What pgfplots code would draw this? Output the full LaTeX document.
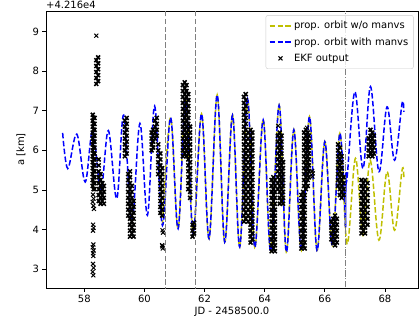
\documentclass[border=0pt]{standalone}
\usepackage{fontspec}
\setmainfont{DejaVu Sans}
\usepackage{pgfplots}
\pgfplotsset{compat=1.18}
\definecolor{mplyellow}{rgb}{0.75,0.75,0}
\definecolor{mplblue}{rgb}{0,0,1}
\begin{document}
\begin{tikzpicture}
\begin{axis}[
 width=372pt, height=277pt, scale only axis,
 xmin=56.726, xmax=69.10, ymin=2.52, ymax=9.523,
 xtick={58,60,62,64,66,68}, ytick={3,4,5,6,7,8,9},
 tick align=outside, tick pos=left, major tick length=3.5pt,
 every tick/.style={black, line width=0.8pt},
 axis line style={line width=0.8pt},
 /pgf/number format/assume math mode=true,
 ticklabel style={font=\fontsize{10}{12}\selectfont},
 xlabel={JD - 2458500.0}, ylabel={a [km]},
 label style={font=\fontsize{10}{12}\selectfont},
 every axis x label/.style={at={(axis description cs:0.5,0)}, anchor=center, yshift=-24pt},
 every axis y label/.style={at={(axis description cs:0,0.5)}, xshift=-25pt, rotate=90, anchor=center},
 legend style={at={(rel axis cs:0.988,0.985)}, anchor=north east, draw=black!20, fill=white, fill opacity=0.8, text opacity=1, draw opacity=1, rounded corners=2pt, font=\fontsize{10}{12}\selectfont, row sep=3.2pt, inner xsep=3pt, inner ysep=4pt, cells={anchor=west}},
 legend image code/.code={\draw[mark repeat=2,mark phase=2,#1] plot coordinates {(0cm,0cm) (0.38cm,0cm) (0.76cm,0cm)};},
]
\addlegendimage{draw=mplyellow, line width=1.5pt, dash pattern=on 5.5pt off 2.4pt}
\addlegendentry{prop. orbit w/o manvs}
\addlegendimage{draw=mplblue, line width=1.5pt, dash pattern=on 5.5pt off 2.4pt}
\addlegendentry{prop. orbit with manvs}
\addlegendimage{only marks, mark=x, mark size=2.8pt, draw=black, mark options={line width=1pt, solid}}
\addlegendentry{EKF output}
% yellow: propagated orbit without manoeuvres
\addplot[mplyellow, line width=1.5pt, dash pattern=on 5.5pt off 2.4pt, smooth, tension=0.6, forget plot] coordinates {
(60.60,4.10)(60.87,6.83)(61.12,4.02)(61.37,7.30)(61.62,3.90)(61.90,6.92)(62.15,3.77)(62.42,7.40)(62.67,3.68)(62.93,6.89)(63.17,3.56)(63.43,7.30)(63.67,3.55)(63.95,6.77)(64.20,3.45)(64.48,7.14)(64.72,3.43)(64.97,6.52)(65.22,3.47)(65.49,6.85)(65.74,3.47)(66.00,6.22)(66.25,3.60)(66.50,6.43)(66.74,3.64)(67.02,5.80)(67.27,3.85)(67.51,5.75)(67.80,3.73)(68.07,5.46)(68.32,3.98)(68.57,5.50)(68.63,5.29)};
% blue: propagated orbit with manoeuvres
\addplot[mplblue, line width=1.5pt, dash pattern=on 5.5pt off 2.4pt, smooth, tension=0.6, forget plot] coordinates {
(57.28,6.44)(57.45,5.54)(57.75,6.41)(58.03,5.20)(58.28,6.50)(58.55,5.00)(58.80,6.50)(59.08,4.78)(59.31,6.89)(59.58,4.20)(59.85,6.68)(60.10,4.36)(60.34,7.12)(60.60,4.10)(60.87,6.83)(61.12,4.02)(61.37,7.30)(61.62,3.90)(61.90,6.92)(62.15,3.77)(62.42,7.40)(62.67,3.68)(62.93,6.89)(63.17,3.56)(63.43,7.30)(63.67,3.55)(63.95,6.77)(64.20,3.45)(64.48,7.14)(64.72,3.43)(64.97,6.52)(65.22,3.47)(65.49,6.85)(65.74,3.47)(66.00,6.22)(66.25,3.60)(66.50,6.43)(66.69,4.05)};
\addplot[mplblue, line width=1.5pt, forget plot] coordinates {(66.69,4.05)(66.70,5.45)};
\addplot[mplblue, line width=1.5pt, dash pattern=on 5.5pt off 2.4pt, smooth, tension=0.6, forget plot] coordinates {
(66.70,5.45)(66.74,5.30)(67.00,7.48)(67.27,5.54)(67.52,7.61)(67.80,5.46)(68.07,7.10)(68.32,5.75)(68.57,7.19)(68.63,6.97)};
% EKF output: dense bands
\addplot[only marks, mark=x, mark size=2.8pt, black, mark options={line width=1.5pt}, forget plot] coordinates {
(58.28,5.10)(58.28,5.25)(58.28,5.40)(58.28,5.55)(58.28,5.70)(58.28,5.85)(58.28,6.00)(58.28,6.15)(58.28,6.30)(58.28,6.45)(58.28,6.60)(58.28,6.75)(58.28,6.90)
(58.34,5.02)(58.34,5.17)(58.34,5.32)(58.34,5.47)(58.34,5.62)(58.34,5.77)(58.34,5.92)(58.34,6.07)(58.34,6.22)(58.34,6.37)(58.34,6.52)(58.34,6.67)(58.34,6.82)
(58.31,5.02)(58.31,5.17)(58.31,5.32)(58.31,5.47)(58.31,5.62)(58.31,5.77)(58.31,5.92)(58.31,6.07)(58.31,6.22)(58.31,6.37)(58.31,6.52)(58.31,6.67)(58.31,6.82)
(58.40,7.68)(58.40,7.83)(58.40,7.98)(58.40,8.13)(58.40,8.28)
(58.46,7.75)(58.46,7.90)(58.46,8.05)(58.46,8.20)(58.46,8.35)
(58.48,4.72)(58.48,4.87)(58.48,5.02)(58.48,5.17)(58.48,5.32)(58.48,5.47)(58.48,5.62)(58.48,5.77)
(58.54,4.65)(58.54,4.80)(58.54,4.95)(58.54,5.10)(58.54,5.25)(58.54,5.40)
(58.60,4.72)(58.60,4.87)(58.60,5.02)(58.60,5.17)
(58.65,4.65)(58.65,4.80)(58.65,4.95)(58.65,5.10)
(59.35,5.85)(59.35,6.00)(59.35,6.15)(59.35,6.30)(59.35,6.45)(59.35,6.60)(59.35,6.75)
(59.41,5.92)(59.41,6.07)(59.41,6.22)(59.41,6.37)(59.41,6.52)(59.41,6.67)(59.41,6.82)
(59.46,4.35)(59.46,4.50)(59.46,4.65)(59.46,4.80)(59.46,4.95)(59.46,5.10)(59.46,5.25)(59.46,5.40)
(59.52,3.82)(59.52,3.97)(59.52,4.12)(59.52,4.27)(59.52,4.42)(59.52,4.57)(59.52,4.72)(59.52,4.87)(59.52,5.02)(59.52,5.17)(59.52,5.32)(59.52,5.47)
(59.58,3.90)(59.58,4.05)(59.58,4.20)(59.58,4.35)(59.58,4.50)(59.58,4.65)(59.58,4.80)(59.58,4.95)(59.58,5.10)
(59.64,3.82)(59.64,3.97)(59.64,4.12)(59.64,4.27)(59.64,4.42)(59.64,4.57)(59.64,4.72)
(60.24,6.00)(60.24,6.15)(60.24,6.30)(60.24,6.45)
(60.29,6.07)(60.29,6.22)(60.29,6.37)(60.29,6.52)
(60.35,6.30)(60.35,6.45)(60.35,6.60)(60.35,6.75)
(60.41,6.37)(60.41,6.52)(60.41,6.67)(60.41,6.82)
(60.46,5.40)(60.46,5.55)(60.46,5.70)(60.46,5.85)(60.46,6.00)(60.46,6.15)
(60.53,4.42)(60.53,4.57)(60.53,4.72)(60.53,4.87)(60.53,5.02)(60.53,5.17)(60.53,5.32)(60.53,5.47)(60.53,5.62)(60.53,5.77)(60.53,5.92)
(60.59,4.35)(60.59,4.50)(60.59,4.65)(60.59,4.80)(60.59,4.95)(60.59,5.10)(60.59,5.25)(60.59,5.40)(60.59,5.55)
(61.28,5.85)(61.28,6.00)(61.28,6.15)(61.28,6.30)(61.28,6.45)(61.28,6.60)(61.28,6.75)(61.28,6.90)(61.28,7.05)(61.28,7.20)(61.28,7.35)(61.28,7.50)(61.28,7.65)
(61.34,5.92)(61.34,6.07)(61.34,6.22)(61.34,6.37)(61.34,6.52)(61.34,6.67)(61.34,6.82)(61.34,6.97)(61.34,7.12)(61.34,7.27)(61.34,7.42)(61.34,7.57)(61.34,7.72)
(61.40,5.85)(61.40,6.00)(61.40,6.15)(61.40,6.30)(61.40,6.45)(61.40,6.60)(61.40,6.75)(61.40,6.90)(61.40,7.05)(61.40,7.20)(61.40,7.35)(61.40,7.50)(61.40,7.65)
(61.46,5.02)(61.46,5.17)(61.46,5.32)(61.46,5.47)(61.46,5.62)(61.46,5.77)(61.46,5.92)(61.46,6.07)(61.46,6.22)(61.46,6.37)(61.46,6.52)(61.46,6.67)(61.46,6.82)(61.46,6.97)(61.46,7.12)(61.46,7.27)(61.46,7.42)
(61.52,4.80)(61.52,4.95)(61.52,5.10)(61.52,5.25)(61.52,5.40)(61.52,5.55)(61.52,5.70)(61.52,5.85)(61.52,6.00)(61.52,6.15)(61.52,6.30)(61.52,6.45)(61.52,6.60)
(61.60,3.82)(61.60,3.97)(61.60,4.12)(61.65,3.90)(61.65,4.05)(61.65,4.17)
(63.31,4.20)(63.31,4.35)(63.31,4.50)(63.31,4.65)(63.31,4.80)(63.31,4.95)(63.31,5.10)(63.31,5.25)(63.31,5.40)(63.31,5.55)(63.31,5.70)(63.31,5.85)(63.31,6.00)(63.31,6.15)(63.31,6.30)(63.31,6.45)(63.31,6.60)(63.31,6.75)(63.31,6.90)(63.31,7.05)(63.31,7.20)(63.31,7.35)
(63.37,4.27)(63.37,4.42)(63.37,4.57)(63.37,4.72)(63.37,4.87)(63.37,5.02)(63.37,5.17)(63.37,5.32)(63.37,5.47)(63.37,5.62)(63.37,5.77)(63.37,5.92)(63.37,6.07)(63.37,6.22)(63.37,6.37)(63.37,6.52)(63.37,6.67)(63.37,6.82)(63.37,6.97)(63.37,7.12)(63.37,7.27)(63.37,7.42)
(63.45,4.20)(63.45,4.35)(63.45,4.50)(63.45,4.65)(63.45,4.80)(63.45,4.95)(63.45,5.10)(63.45,5.25)(63.45,5.40)(63.45,5.55)(63.45,5.70)(63.45,5.85)(63.45,6.00)(63.45,6.15)(63.45,6.30)(63.45,6.45)
(63.53,3.67)(63.53,3.82)(63.53,3.97)(63.53,4.12)(63.53,4.27)(63.53,4.42)(63.53,4.57)(63.53,4.72)(63.53,4.87)(63.53,5.02)(63.53,5.17)(63.53,5.32)(63.53,5.47)(63.53,5.62)(63.53,5.77)(63.53,5.92)(63.53,6.07)(63.53,6.22)(63.53,6.37)(63.53,6.52)
(63.59,3.75)(63.59,3.90)(63.59,4.05)(63.59,4.20)(63.59,4.35)(63.59,4.50)(63.59,4.65)(63.59,4.80)(63.59,4.95)(63.59,5.10)(63.59,5.25)(63.59,5.40)(63.59,5.55)(63.59,5.70)(63.59,5.85)(63.59,6.00)(63.59,6.15)(63.59,6.30)(63.59,6.45)
(64.23,3.45)(64.23,3.60)(64.23,3.75)(64.23,3.90)(64.23,4.05)(64.23,4.20)(64.23,4.35)(64.23,4.50)(64.23,4.65)(64.23,4.80)(64.23,4.95)(64.23,5.10)(64.23,5.25)
(64.29,3.52)(64.29,3.67)(64.29,3.82)(64.29,3.97)(64.29,4.12)(64.29,4.27)(64.29,4.42)(64.29,4.57)(64.29,4.72)(64.29,4.87)(64.29,5.02)(64.29,5.17)(64.29,5.32)
(64.34,3.45)(64.34,3.60)(64.34,3.75)(64.34,3.90)(64.34,4.05)(64.34,4.20)(64.34,4.35)(64.34,4.50)(64.34,4.65)(64.34,4.80)(64.34,4.95)(64.34,5.10)(64.34,5.25)
(64.44,5.02)(64.44,5.17)(64.44,5.32)(64.44,5.47)(64.44,5.62)(64.44,5.77)(64.44,5.92)(64.44,6.07)(64.44,6.22)(64.44,6.37)
(64.50,4.65)(64.50,4.80)(64.50,4.95)(64.50,5.10)(64.50,5.25)(64.50,5.40)(64.50,5.55)(64.50,5.70)(64.50,5.85)(64.50,6.00)(64.50,6.15)(64.50,6.30)(64.50,6.45)
(64.56,4.72)(64.56,4.87)(64.56,5.02)(64.56,5.17)(64.56,5.32)(64.56,5.47)(64.56,5.62)(64.56,5.77)(64.56,5.92)(64.56,6.07)(64.56,6.22)(64.56,6.37)
(64.61,4.65)(64.61,4.80)(64.61,4.95)(64.61,5.10)(64.61,5.25)(64.61,5.40)(64.61,5.55)(64.61,5.70)
(65.22,3.52)(65.22,3.67)(65.22,3.82)(65.22,3.97)(65.22,4.12)(65.22,4.27)(65.22,4.42)(65.22,4.57)(65.22,4.72)(65.22,4.87)
(65.28,3.60)(65.28,3.75)(65.28,3.90)(65.28,4.05)(65.28,4.20)(65.28,4.35)(65.28,4.50)(65.28,4.65)(65.28,4.80)(65.28,4.95)
(65.33,3.52)(65.33,3.67)(65.33,3.82)(65.33,3.97)(65.33,4.12)(65.33,4.27)(65.33,4.42)(65.33,4.57)(65.33,4.72)(65.33,4.87)
(65.31,5.10)(65.31,5.25)(65.31,5.40)(65.31,5.55)(65.31,5.70)(65.31,5.85)(65.31,6.00)(65.31,6.15)(65.31,6.30)(65.31,6.45)
(65.37,5.02)(65.37,5.17)(65.37,5.32)(65.37,5.47)(65.37,5.62)(65.37,5.77)(65.37,5.92)(65.37,6.07)(65.37,6.22)(65.37,6.37)(65.37,6.52)
(65.43,5.10)(65.43,5.25)(65.43,5.40)(65.43,5.55)(65.43,5.70)(65.43,5.85)(65.43,6.00)(65.43,6.15)(65.43,6.30)(65.43,6.45)
(65.47,5.32)(65.47,5.47)(65.47,5.62)(65.47,5.77)(65.47,5.92)(65.47,6.07)(65.47,6.22)(65.47,6.37)
(66.22,3.75)(66.22,3.90)(66.22,4.05)(66.22,4.20)
(66.28,3.67)(66.28,3.82)(66.28,3.97)(66.28,4.12)(66.28,4.27)
(66.34,3.60)(66.34,3.75)(66.34,3.90)(66.34,4.05)(66.34,4.20)(66.34,4.35)
(66.40,3.67)(66.40,3.82)(66.40,3.97)(66.40,4.12)(66.40,4.27)
(66.44,5.10)(66.44,5.25)(66.44,5.40)(66.44,5.55)(66.44,5.70)(66.44,5.85)(66.44,6.00)(66.44,6.15)
(66.50,4.87)(66.50,5.02)(66.50,5.17)(66.50,5.32)(66.50,5.47)(66.50,5.62)(66.50,5.77)(66.50,5.92)(66.50,6.07)
(66.56,4.80)(66.56,4.95)(66.56,5.10)(66.56,5.25)(66.56,5.40)(66.56,5.55)(66.56,5.70)(66.56,5.85)
(66.62,4.87)(66.62,5.02)(66.62,5.17)(66.62,5.32)
(67.22,3.90)(67.22,4.05)(67.22,4.20)(67.22,4.35)(67.22,4.50)(67.22,4.65)(67.22,4.80)(67.22,4.95)(67.22,5.10)(67.22,5.25)
(67.28,3.97)(67.28,4.12)(67.28,4.27)(67.28,4.42)(67.28,4.57)(67.28,4.72)(67.28,4.87)(67.28,5.02)(67.28,5.17)
(67.34,3.90)(67.34,4.05)(67.34,4.20)(67.34,4.35)(67.34,4.50)(67.34,4.65)(67.34,4.80)(67.34,4.95)(67.34,5.10)(67.34,5.25)
(67.42,4.12)(67.42,4.27)(67.42,4.42)(67.42,4.57)(67.42,4.72)(67.42,4.87)(67.42,5.02)(67.42,5.17)
(67.46,5.85)(67.46,6.00)(67.46,6.15)(67.46,6.30)
(67.52,5.92)(67.52,6.07)(67.52,6.22)(67.52,6.37)(67.52,6.52)
(67.58,5.85)(67.58,6.00)(67.58,6.15)(67.58,6.30)(67.58,6.45)
(67.63,5.92)(67.63,6.07)(67.63,6.22)(67.63,6.37)
};
% EKF output: isolated estimates
\addplot[only marks, mark=x, mark size=2.8pt, black, mark options={line width=1pt}, forget plot] coordinates {
(58.40,8.90)
(58.29,4.88)(58.31,4.78)(58.28,4.70)(58.30,4.60)(58.32,4.52)(58.29,4.12)(58.31,4.04)(58.29,3.97)(58.30,3.62)(58.28,3.55)(58.31,3.47)(58.29,3.40)(58.30,3.33)(58.29,3.13)(58.31,3.03)(58.28,2.93)(58.30,2.84)
(60.60,3.98)(60.62,3.92)(60.59,3.60)(60.61,3.52)(60.60,3.57)
(64.45,6.62)(65.41,6.57)
(65.59,5.34)(65.60,5.42)(65.58,5.48)
};
% manoeuvre epochs
\addplot[black!50, line width=1pt, dash pattern=on 5.5pt off 2.4pt, forget plot] coordinates {(60.71,2) (60.71,10)};
\addplot[black!50, line width=1pt, dash pattern=on 5.5pt off 2.4pt, forget plot] coordinates {(61.71,2) (61.71,10)};
\addplot[black!50, line width=1pt, dash pattern=on 6.4pt off 1.6pt on 1pt off 1.6pt, forget plot] coordinates {(66.69,2) (66.69,10)};
\end{axis}
\node[anchor=south west, inner sep=0pt, yshift=2pt, font=\fontsize{10}{12}\selectfont] at (current axis.north west) {+4.216e4};
\pgfresetboundingbox
\path ([shift={(-46pt,-41pt)}]current axis.south west) rectangle ([shift={(1pt,11pt)}]current axis.north east);
\end{tikzpicture}
\end{document}
